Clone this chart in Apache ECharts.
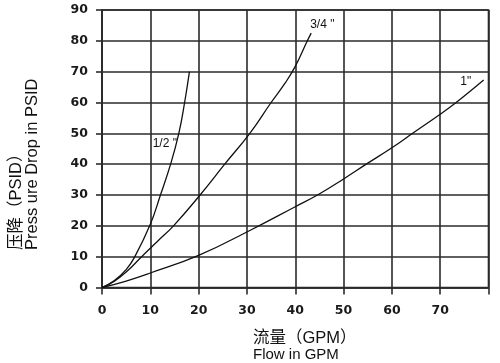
<!DOCTYPE html>
<html>
<head>
<meta charset="utf-8">
<script src="https://cdn.jsdelivr.net/npm/echarts@6/dist/echarts.min.js"></script>
<style>html,body{margin:0;padding:0;background:#fff;}#c{width:500px;height:363px;}</style>
</head>
<body>
<div id="c"></div>
<script>
// ---- data ----
const xTicks = [0, 10, 20, 30, 40, 50, 60, 70];
const yTicks = [0, 10, 20, 30, 40, 50, 60, 70, 80, 90];

const seriesNames = ['1/2 "', '3/4 "', '1"'];

const flowHalf = [0, 2.5, 5, 6.8, 10, 12.1, 14.2, 15.9, 17.1, 18.1];
const psidHalf = [0, 2.2, 5.8, 10, 20.5, 30, 40, 50, 60, 70];

const flowThreeQuarter = [0, 2.5, 5, 8.2, 11.5, 14.8, 20.3, 25.4, 30.6, 35, 38, 40, 42.5, 43.3];
const psidThreeQuarter = [0, 2.0, 5.0, 10, 15, 20, 30, 40, 50, 60, 66.5, 71.7, 80, 82.5];

const flowOne = [0, 5, 10, 20, 30.6, 40, 44.6, 50, 54.7, 60, 64.3, 70, 73.3, 79];
const psidOne = [0, 2.1, 4.7, 10.4, 18.5, 26.2, 30, 35.2, 40, 45.3, 50, 56.2, 60, 67.3];

// label anchor positions (data space) for the curve names
const labelAt = [[13.0, 46.5], [45.6, 85.3], [75.3, 66.8]];

const xNameCn = '流量（GPM）';
const xNameEn = 'Flow in GPM';
const yNameCn = '压降（PSID）';
const yNameEn = 'Press ure Drop in PSID';

// ---- chart ----
const pair = (xs, ys) => xs.map((x, i) => [x, ys[i]]);
const chart = echarts.init(document.getElementById('c'), null, {renderer: 'canvas'});
const gridColor = '#2b2b2b';
const tickFont = {fontFamily: 'DejaVu Sans', fontWeight: 'bold', fontSize: 12.5, color: '#1a1a1a'};
const nameFont = "'Liberation Sans', 'Noto Sans CJK SC', sans-serif";

function curve(name, xs, ys, lab) {
  return {
    type: 'line', name: name, data: pair(xs, ys),
    smooth: 0.45, showSymbol: false, symbol: 'none',
    lineStyle: {color: '#111', width: 1.3},
    silent: true, animation: false,
    markPoint: {
      symbol: 'circle', symbolSize: 0, silent: true, animation: false,
      label: {show: true, formatter: name, color: '#111', fontSize: 12, fontFamily: nameFont, fontWeight: 'normal'},
      data: [{coord: lab}]
    }
  };
}

chart.setOption({
  animation: false,
  backgroundColor: '#fff',
  grid: {left: 102, right: 11.5, top: 10, bottom: 75.5, show: true, borderColor: gridColor, borderWidth: 1.6},
  xAxis: {
    type: 'value', min: 0, max: 80, interval: 10,
    axisLine: {show: true, lineStyle: {color: gridColor, width: 1.6}},
    axisTick: {show: true, length: 7, lineStyle: {color: gridColor, width: 1.6}},
    splitLine: {show: true, lineStyle: {color: gridColor, width: 1.6}},
    axisLabel: Object.assign({margin: 17, formatter: v => xTicks.indexOf(v) >= 0 ? String(v) : ''}, tickFont)
  },
  yAxis: {
    type: 'value', min: 0, max: 90, interval: 10,
    axisLine: {show: true, lineStyle: {color: gridColor, width: 1.6}},
    axisTick: {show: true, length: 6, lineStyle: {color: gridColor, width: 1.6}},
    splitLine: {show: true, lineStyle: {color: gridColor, width: 1.6}},
    axisLabel: Object.assign({margin: 14, formatter: v => yTicks.indexOf(v) >= 0 ? String(v) : ''}, tickFont)
  },
  series: [
    curve(seriesNames[0], flowHalf, psidHalf, labelAt[0]),
    curve(seriesNames[1], flowThreeQuarter, psidThreeQuarter, labelAt[1]),
    curve(seriesNames[2], flowOne, psidOne, labelAt[2])
  ],
  graphic: [
    {type: 'text', x: 16, y: 250, rotation: Math.PI / 2, style: {text: yNameCn, font: '16.5px ' + nameFont, fill: '#111', textAlign: 'left', textVerticalAlign: 'middle'}},
    {type: 'text', x: 32.5, y: 250, rotation: Math.PI / 2, style: {text: yNameEn, font: '16.5px ' + nameFont, fill: '#111', textAlign: 'left', textVerticalAlign: 'middle'}},
    {type: 'text', x: 253, y: 338, style: {text: xNameCn, font: '16.5px ' + nameFont, fill: '#111', textAlign: 'left', textVerticalAlign: 'middle'}},
    {type: 'text', x: 253, y: 355, style: {text: xNameEn, font: '15px ' + nameFont, fill: '#111', textAlign: 'left', textVerticalAlign: 'middle'}}
  ]
});
</script>
</body>
</html>
